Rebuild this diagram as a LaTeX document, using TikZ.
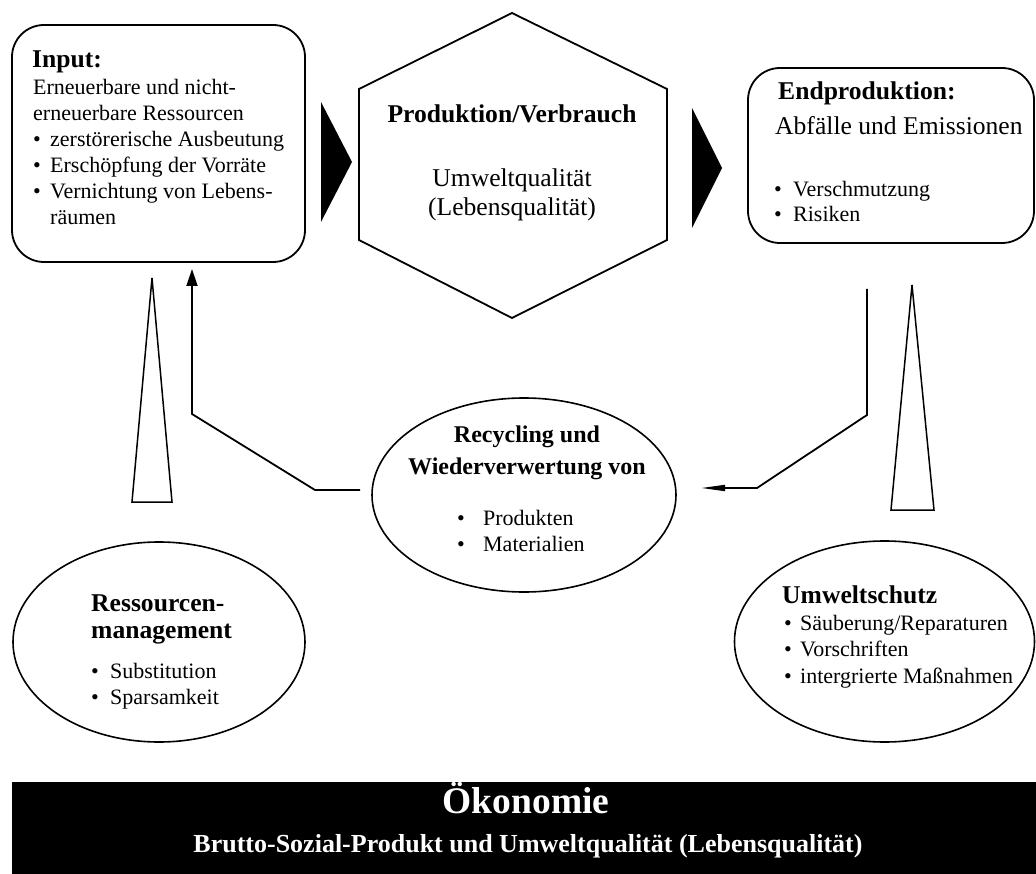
\documentclass[tikz,border=0pt]{standalone}
\usepackage{fontspec}
\setmainfont{Liberation Serif}
\usetikzlibrary{arrows.meta,shapes.geometric}
\newcommand\fs[2]{\fontsize{#1}{#2}\selectfont}
\newcommand\bul[1]{\makebox[#1][l]{•}}
\begin{document}
% multi-line text nodes are placed by the baseline of their last line
\begin{tikzpicture}[x=1pt,y=-1pt,
  line/.style={line width=1.8pt},
  box/.style={draw, line width=1.8pt, rounded corners=32pt, inner sep=0pt},
  oval/.style={draw, ellipse, line width=1.6pt, inner sep=0pt},
  hollow/.style={draw, line width=1.5pt, line join=miter},
  head/.style={font=\fs{25.6}{29}\bfseries, inner sep=0pt},
  txt/.style={inner sep=0pt, align=left},
  body/.style={txt, font=\fs{22}{26}},
]
\useasboundingbox (0,0) rectangle (1036,874);

% main boxes
\node[box, minimum width=293pt, minimum height=237pt] (input) at (158.5,143.5) {};
\node[box, minimum width=286pt, minimum height=175pt] (endp) at (891,155.5) {};

% hexagon for production / consumption
\coordinate (h1) at (512,13);
\coordinate (h2) at (667,89);
\coordinate (h3) at (667,240);
\coordinate (h4) at (512,318);
\coordinate (h5) at (359,240);
\coordinate (h6) at (359,89);
\draw[line, line join=miter] (h1) -- (h2) -- (h3) -- (h4) -- (h5) -- (h6) -- cycle;

% black flow arrows
\fill (321,102) -- (352,162) -- (321,222) -- cycle;
\fill (692,108) -- (722,168) -- (692,228) -- cycle;

% ovals
\node[oval, minimum width=304pt, minimum height=194pt] (recyc) at (524,495) {};
\node[oval, minimum width=292pt, minimum height=200pt] (ressm) at (159,642) {};
\node[oval, minimum width=300pt, minimum height=201pt] (umw) at (884.5,641.5) {};

% hollow wedges
\draw[hollow] (132,502) -- (152,278) -- (172,502) -- cycle;
\draw[hollow] (891,510) -- (912,285) -- (934,510) -- cycle;

% recycling loops
\coordinate (rl) at (360,490);
\coordinate (inA) at (192,269);
\draw[line, -{Triangle[length=17pt,width=11pt]}] (rl) -- (315,490) -- (192,414) -- (inA);
\coordinate (endA) at (867,289);
\coordinate (rr) at (701,488);
\draw[line, -{Triangle[length=24pt,width=6pt]}] (endA) -- (867,415) -- (757,488) -- (rr);

% texts: input
\node[head, anchor=base west] (inT) at (32,68) {Input:};
\node[body, anchor=base west] (inB) at (33,225) {Erneuerbare und nicht-\\erneuerbare Ressourcen\\
  \bul{17pt}zerstörerische Ausbeutung\\\bul{17pt}Erschöpfung der Vorräte\\
  \bul{17pt}Vernichtung von Lebens-\\\hspace*{17pt}räumen};

% texts: production
\node[head, anchor=base] (hexT) at (512,123) {Produktion/Verbrauch};
\node[inner sep=0pt, align=center, font=\fs{25.6}{29.5}, anchor=base] (hexB) at (512,216) {Umweltqualität\\(Lebensqualität)};

% texts: end production
\node[head, anchor=base west] (endT) at (778,100) {Endproduktion:};
\node[inner sep=0pt, font=\fs{25.6}{29}, anchor=base west] (endS) at (775,135) {Abfälle und Emissionen};
\node[body, font=\fs{22}{25}, anchor=base west] (endB) at (774,222) {\bul{19pt}Verschmutzung\\\bul{19pt}Risiken};

% texts: recycling
\node[inner sep=0pt, align=center, font=\fs{24}{32}\bfseries, anchor=base] (recT) at (527,474) {Recycling und\\Wiederverwertung von};
\node[body, anchor=base west] (recB) at (457,551) {\bul{26pt}Produkten\\\bul{26pt}Materialien};

% texts: resource management
\node[txt, font=\fs{25.6}{26.5}\bfseries, anchor=base west] (resT) at (91,638) {Ressourcen-\\management};
\node[body, anchor=base west] (resB) at (91,704) {\bul{19pt}Substitution\\\bul{19pt}Sparsamkeit};

% texts: environmental protection
\node[head, anchor=base west] (umwT) at (782,603) {Umweltschutz};
\node[body, font=\fs{22}{26.5}, anchor=base west] (umwB) at (784,683) {\bul{16pt}Säuberung/Reparaturen\\\bul{16pt}Vorschriften\\\bul{16pt}intergrierte Maßnahmen};

% economy bar
\node[fill=black, minimum width=1024pt, minimum height=92pt, inner sep=0pt, anchor=north west] (bar) at (12,782) {};
\node[text=white, inner sep=0pt, font=\fs{37.5}{40}\bfseries, anchor=base] (oek) at (526,813) {Ökonomie};
\node[text=white, inner sep=0pt, font=\fs{26}{30}\bfseries, anchor=base] (bsp) at (528,852) {Brutto-Sozial-Produkt und Umweltqualität (Lebensqualität)};
\end{tikzpicture}
\end{document}
